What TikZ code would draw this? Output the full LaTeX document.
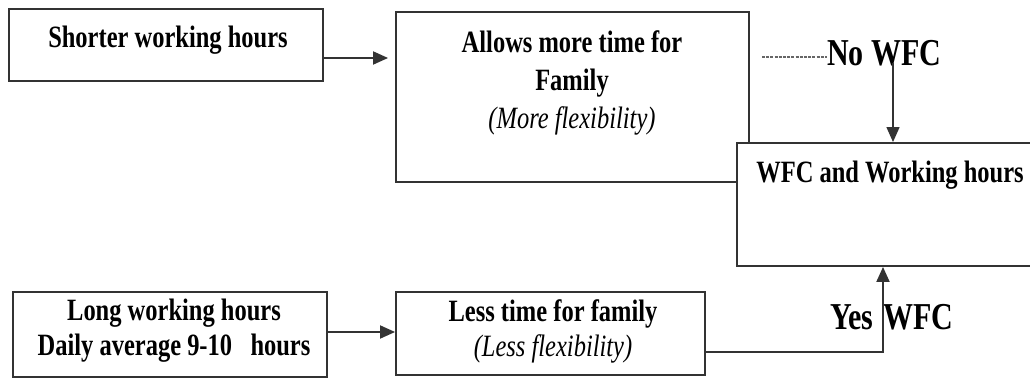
\documentclass[tikz,border=0pt]{standalone}
\usepackage{fontspec}
\setmainfont[FakeStretch=0.79]{Liberation Serif}
\usetikzlibrary{arrows.meta}
\definecolor{boxline}{gray}{0.2}

\begin{document}
\begin{tikzpicture}[x=1pt,y=-1pt,
  box/.style={draw=boxline, line width=1.9pt, fill=white, inner sep=0pt, rectangle},
  conn/.style={draw=boxline, line width=1.9pt},
  tip/.style={-{Triangle[length=15pt,width=13pt]}},
  dashline/.style={draw=gray!80!black, line width=1.1pt, dash pattern=on 3pt off 1.2pt},
  lbl/.style={font=\fontsize{31}{38}\selectfont\bfseries, align=center, inner sep=0pt, text=black},
  lbltight/.style={font=\fontsize{31}{35}\selectfont\bfseries, align=center, inner sep=0pt, text=black},
  big/.style={font=\fontsize{38}{44}\selectfont\bfseries, inner sep=0pt, text=black}
]
\useasboundingbox (0,0) rectangle (1030,379);

% boxes
\node[box, minimum width=314pt, minimum height=72pt] (short) at (166,45) {};
\node[box, minimum width=353pt, minimum height=170pt] (allows) at (572.5,97) {};
\node[box, minimum width=303pt, minimum height=123pt] (wfc) at (888.5,204.5) {};
\node[box, minimum width=314pt, minimum height=85pt] (long) at (170,334.5) {};
\node[box, minimum width=309pt, minimum height=83pt] (less) at (550.5,333.5) {};

% box texts
\node[lbl] (tshort) at (168,40) {Shorter working hours};
\node[lbl] (tallows) at (572,83) {Allows more time for\\Family\\{\mdseries\itshape (More flexibility)}};
\node[lbl] (twfc) at (890,175) {WFC and Working hours};
\node[lbltight] (tlong) at (174,331) {Long working hours\\Daily average 9-10 \ \ hours};
\node[lbltight] (tless) at (553,331) {Less time for family\\{\mdseries\itshape (Less flexibility)}};

% outcome labels
\node[big, anchor=west] (nowfc) at (827,53) {No WFC};
\node[big, anchor=west] (yeswfc) at (830,317) {Yes\hspace{2pt} WFC};

% helper points
\coordinate (r1) at (0,58);
\coordinate (r2) at (0,332);
\coordinate (bend) at (883,352);
\coordinate (dashstart) at (762,57);
\coordinate (nofoot) at (893,63);

% connectors
\draw[conn, tip, shorten >=7pt] (short.east |- r1) -- (allows.west |- r1);
\draw[conn, tip] (long.east |- r2) -- (less.west |- r2);
\draw[conn, tip] (less.east |- bend) -- (bend) -- (bend |- wfc.south);
\draw[dashline] (dashstart) -- (nowfc.west |- dashstart);
\draw[conn, line width=1.4pt, tip] (nofoot) -- (nofoot |- wfc.north);
\end{tikzpicture}
\end{document}
